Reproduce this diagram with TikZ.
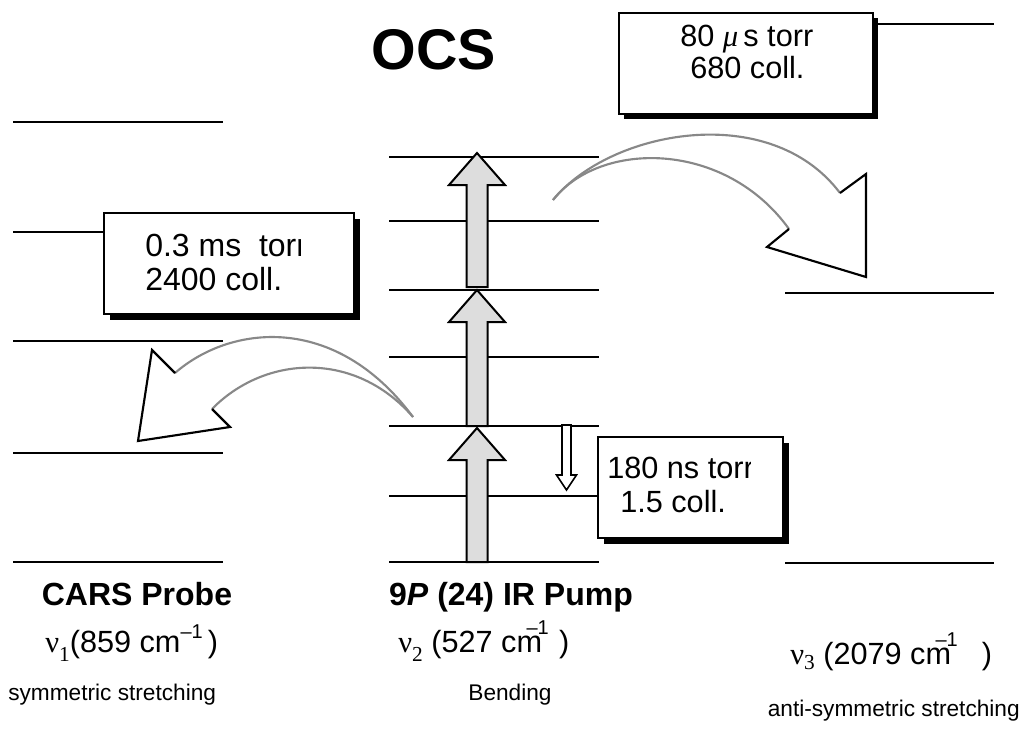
\documentclass[tikz,border=0pt]{standalone}
\usepackage{fontspec}
\setmainfont{Liberation Sans}
\newfontfamily\nufont{Liberation Serif}
\definecolor{pumpgray}{HTML}{DDDDDD}
\definecolor{curvegray}{HTML}{888888}
\newcommand\pumparrow[3]{\draw[pumpstyle] (466.5,#1) -- (466.5,#2) -- (449,#2) -- (477,#3) -- (505,#2) -- (487.5,#2) -- (487.5,#1) -- cycle;}
\newcommand\fs[1]{\fontsize{#1}{#1}\selectfont}
\begin{document}
\begin{tikzpicture}[x=0.75pt,y=-0.75pt,
  level/.style={line width=2.1pt},
  boxstyle/.style={draw=black, line width=1.6pt, fill=white},
  shadowstyle/.style={fill=black},
  pumpstyle/.style={draw=black, line width=1.5pt, fill=pumpgray, line join=miter},
  bodystyle/.style={draw=curvegray, line width=1.6pt},
  headstyle/.style={draw=black, line width=1.6pt, line join=miter},
  lbl/.style={inner sep=0pt, anchor=base west},
  clbl/.style={inner sep=0pt, anchor=base},
  boxtext/.style={inner sep=0pt, anchor=base west, font=\fs{23}},
]
\useasboundingbox (0,0) rectangle (1026,732);
% energy levels
\foreach \y in {122,232,341,453,562} \draw[level] (13,\y) -- (223,\y);
\foreach \y in {157,221,290,357,426,496,562} \draw[level] (389,\y) -- (599,\y);
\foreach \y in {24,293,563} \draw[level] (785,\y) -- (994,\y);
% boxes
\fill[shadowstyle] (110,219) rectangle (360,320);
\draw[boxstyle] (104,213) rectangle (354,314);
\fill[shadowstyle] (624,18) rectangle (878,119);
\draw[boxstyle] (619,13) rectangle (873,114);
\fill[shadowstyle] (604,443) rectangle (789,544);
\draw[boxstyle] (598,437) rectangle (783,538);
% box texts
\begin{scope}
\clip (600,15) rectangle (821,112);
\node[boxtext] (t80) at (680,46) {80 {\nufont\itshape μ}\,s torr};
\end{scope}
\node[boxtext] (t680) at (690,78) {680 coll.};
\begin{scope}
\clip (106,215) rectangle (300,312);
\node[boxtext, font=\fs{24}] (t03) at (145,256) {0.3 ms \ torr};
\end{scope}
\node[boxtext, font=\fs{24}] (t2400) at (145,290) {2400 coll.};
\begin{scope}
\clip (600,439) rectangle (750,536);
\node[boxtext] (t180) at (607,478) {180 ns torr};
\end{scope}
\node[boxtext] (t15) at (620,512) {1.5 coll.};
% pump arrows
\pumparrow{562}{460}{428}
\pumparrow{426}{322}{290}
\pumparrow{287}{185}{153}
% small relaxation arrow
\draw[line width=1.2pt, fill=white, line join=miter] (562,425) -- (571,425) -- (571,475) -- (576.5,475) -- (566.5,490) -- (556.5,475) -- (562,475) -- cycle;
% curved arrow right
\draw[bodystyle] (553,200) .. controls (610,130) and (770,100) .. (840,193);
\draw[bodystyle] (553,200) .. controls (600,140) and (725,140) .. (789,229);
\draw[headstyle] (840,193) -- (866,174) -- (866,277) -- (767,247) -- (789,229);
% curved arrow left
\draw[bodystyle] (413,417) .. controls (335,312) and (230,325) .. (175,373);
\draw[bodystyle] (413,417) .. controls (355,350) and (265,355) .. (212,409);
\draw[headstyle] (175,373) -- (152,350) -- (138,441) -- (230,427) -- (212,409);
% titles
\node[clbl, font=\fs{43}\bfseries] (title) at (434,69) {OCS};
\node[clbl, font=\fs{24}\bfseries] (probe) at (137,605) {CARS Probe};
\node[clbl, font=\fs{24}\bfseries] (pump) at (511,605) {9\textit{P} (24) IR Pump};
\node[lbl, font=\fs{23}] (nu1) at (45,652) {{\nufont ν\raisebox{-7pt}{\fs{16}1}}(859 cm\raisebox{10pt}{\fs{15}–1}\,)};
\node[lbl, font=\fs{23}] (nu2) at (398,652) {{\nufont ν\raisebox{-7pt}{\fs{16}2}} (527 cm\llap{\raisebox{13pt}{\fs{15}–1}\kern-5pt}\ \ )};
\node[lbl, font=\fs{23}] (nu3) at (790,664) {{\nufont ν\raisebox{-4pt}{\fs{16}3}} (2079 cm\llap{\raisebox{13pt}{\fs{15}–1}\kern-5pt}\quad)};
\node[lbl, font=\fs{17}] (sym) at (8,700) {symmetric stretching};
\node[clbl, font=\fs{17}] (bend) at (510,700) {Bending};
\node[anchor=base east, inner sep=0pt, font=\fs{17}] (anti) at (1020,716) {anti-symmetric stretching};
\end{tikzpicture}
\end{document}
